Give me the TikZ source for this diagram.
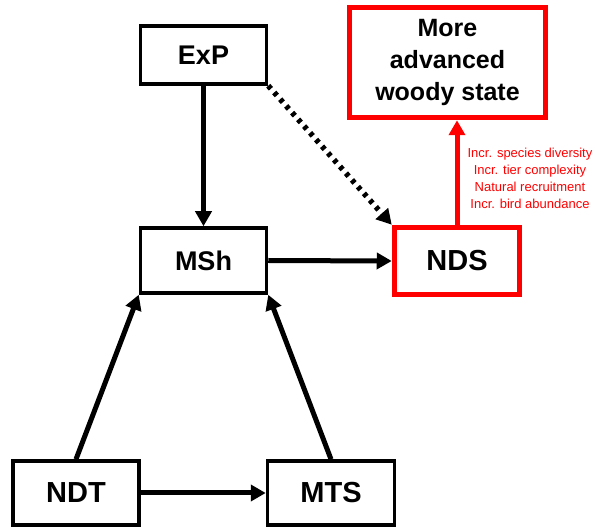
\documentclass[tikz,border=0pt]{standalone}
\usepackage{fontspec}
\setmainfont{Liberation Sans}
\usetikzlibrary{arrows.meta}
\definecolor{myred}{RGB}{255,0,0}
\tikzset{
  blackbox/.style={draw=black, line width=3.5pt, minimum width=126pt, inner sep=0pt, font=\bfseries\fontsize{27}{30}\selectfont},
  redbox/.style={draw=myred, line width=5.5pt, inner sep=0pt, font=\bfseries\fontsize{29}{32}\selectfont},
  arr/.style={line width=5pt, -{Triangle[length=15pt,width=16pt]}},
  dotarr/.style={line width=5.5pt, dash pattern=on 4pt off 5pt, -{Triangle[length=15pt,width=16pt]}},
  redarr/.style={myred, line width=5pt, -{Triangle[length=15pt,width=16pt]}},
}
\begin{document}
\begin{tikzpicture}[x=1pt,y=1pt]
\useasboundingbox (0,0) rectangle (595,528);
\node[blackbox, minimum height=58pt] (ExP) at (203.5,473) {ExP};
\node[blackbox, minimum height=65pt] (MSh) at (203.5,267.5) {MSh};
\node[blackbox, minimum height=64pt, font=\bfseries\fontsize{29}{32}\selectfont] (NDT) at (76,35) {NDT};
\node[blackbox, minimum height=64pt, minimum width=127pt, font=\bfseries\fontsize{29}{32}\selectfont] (MTS) at (331,35) {MTS};
\node[redbox, minimum width=125pt, minimum height=67pt] (NDS) at (457,267) {NDS};
\node[redbox, minimum width=196pt, minimum height=110pt, align=center, font=\bfseries\fontsize{25}{32}\selectfont] (More) at (447.5,465.5) {More\\advanced\\woody state};
\node[text=myred, align=center, font=\fontsize{13}{17}\selectfont, inner sep=0pt] (lbl) at (530,350) {Incr. species diversity\\Incr. tier complexity\\Natural recruitment\\Incr. bird abundance};
\draw[arr] (ExP.south) -- (MSh.north);
\draw[dotarr] (ExP.south east) -- (NDS.north west);
\draw[arr] (MSh.east) -- (NDS.west);
\draw[arr] (NDT.north) -- (MSh.south west);
\draw[arr] (MTS.north) -- (MSh.south east);
\draw[arr] (NDT.east) -- (MTS.west);
\draw[redarr] (NDS.north) -- (NDS.north |- More.south);
\end{tikzpicture}
\end{document}
